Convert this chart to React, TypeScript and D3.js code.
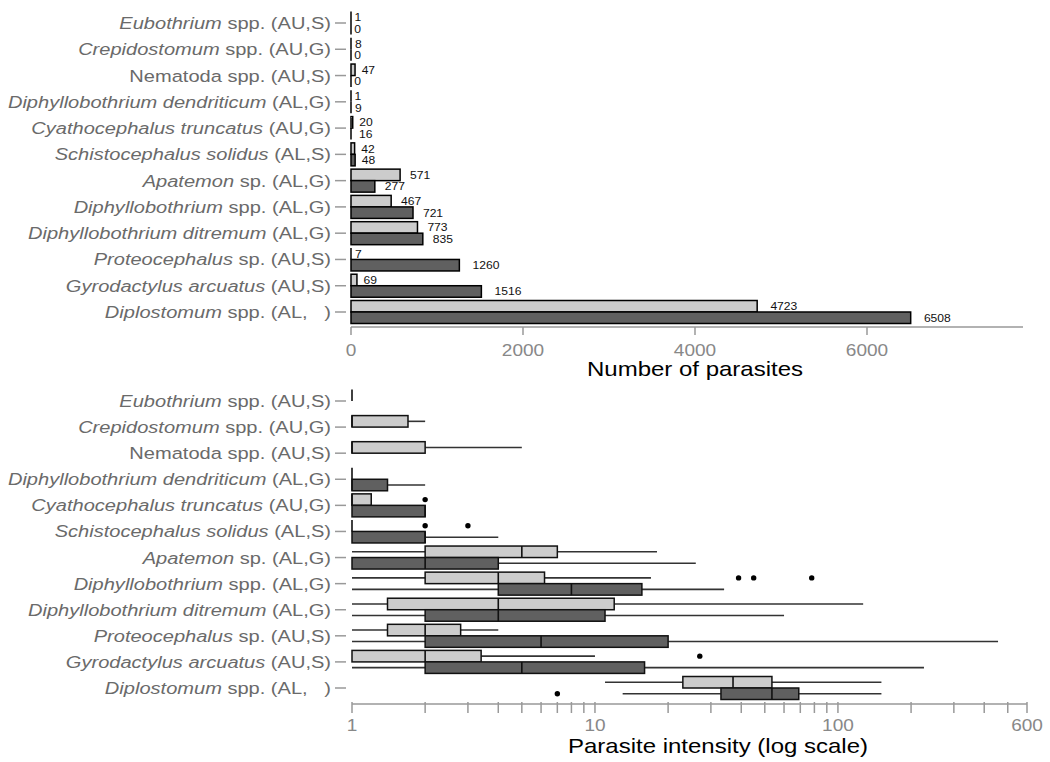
import React from "react";
import * as d3 from "d3";

const italicPart = [
  "Eubothrium", "Crepidostomum", "", "Diphyllobothrium dendriticum",
  "Cyathocephalus truncatus", "Schistocephalus solidus", "Apatemon",
  "Diphyllobothrium", "Diphyllobothrium ditremum", "Proteocephalus",
  "Gyrodactylus arcuatus", "Diplostomum",
];
const plainPart = [
  " spp. (AU,S)", " spp. (AU,G)", "Nematoda spp. (AU,S)", " (AL,G)",
  " (AU,G)", " (AL,S)", " sp. (AL,G)", " spp. (AL,G)", " (AL,G)",
  " sp. (AU,S)", " (AU,S)", " spp. (AL,\u00a0\u00a0\u00a0)",
];

const countLight = [1, 8, 47, 1, 20, 42, 571, 467, 773, 7, 69, 4723];
const countDark = [0, 0, 0, 9, 16, 48, 277, 721, 835, 1260, 1516, 6508];

type Stat = [number, number, number, number, number] | null;
// [min, q1, median, q3, max]
const boxLight: Stat[] = [
  [1, 1, 1, 1, 1], [1, 1, 1, 1.7, 2], [1, 1, 1, 2, 5], [1, 1, 1, 1, 1],
  [1, 1, 1, 1.2, 1.2], [1, 1, 1, 1, 1], [1, 2, 5, 7, 18], [1, 2, 4, 6.2, 17],
  [1, 1.4, 4, 12, 127], [1, 1.4, 2, 2.8, 4], [1, 1, 2, 3.4, 10], [11, 23, 37, 53.5, 151],
];
const boxDark: Stat[] = [
  null, null, null, [1, 1, 1, 1.4, 2],
  [1, 1, 2, 2, 2], [1, 1, 2, 2, 4], [1, 1, 2, 4, 26], [1, 4, 8, 15.6, 34],
  [1, 2, 4, 11, 60], [1, 2, 6, 20, 456], [1, 2, 5, 16, 226], [13, 33, 53.5, 69, 151],
];
const outLight: number[][] = [[], [], [], [], [2], [2, 3], [], [39, 45, 78], [], [], [27], []];
const outDark: number[][] = [[], [], [], [], [], [], [], [], [], [], [], [7]];

const countTicks = [0, 2000, 4000, 6000];
const logTicks = [1, 2, 3, 4, 5, 6, 7, 8, 9, 10, 20, 30, 40, 50, 60, 70, 80, 90, 100, 200, 300, 400, 500, 600];
const logLabels = [1, 10, 100, 600];

const LIGHT = "#cccccc";
const DARK = "#606060";
const FONT = "'Liberation Sans', Arial, sans-serif";
const SX = 1.18;

function SText(props: { x: number; y: number; anchor?: string; size: number; fill: string; children: React.ReactNode; sx?: number }) {
  const s = props.sx ?? SX;
  return (
    <text
      transform={`translate(${props.x},${props.y}) scale(${s},1)`}
      textAnchor={props.anchor || "start"}
      fontSize={props.size}
      fill={props.fill}
      fontFamily={FONT}
    >
      {props.children}
    </text>
  );
}

export default function App() {
  const idx = d3.range(italicPart.length);
  const yTop = d3.scalePoint<number>().domain(idx).range([23, 312]);
  const yBot = d3.scalePoint<number>().domain(idx).range([401, 688]);
  const xCount = d3.scaleLinear().domain([0, 7814]).range([351, 1023]);
  const xLog = d3.scaleLog().domain([1, 600]).range([352, 1027]);
  const bh = 11.5;

  const labels = (ys: d3.ScalePoint<number>) =>
    idx.map((i) => (
      <g key={"l" + i}>
        <SText x={331} y={ys(i)! + 6} anchor="end" size={17} fill="#6a6a6a">
          {italicPart[i] && <tspan fontStyle="italic">{italicPart[i]}</tspan>}
          <tspan>{plainPart[i]}</tspan>
        </SText>
        <line x1={335} x2={346} y1={ys(i)!} y2={ys(i)!} stroke="#999" strokeWidth={1.5} />
      </g>
    ));

  const bar = (v: number, yTopPx: number, fill: string, key: string) => {
    const x0 = xCount(0);
    const x1 = xCount(v);
    const txt = String(v);
    const w = txt.length * 6.6;
    return (
      <g key={key}>
        {x1 - x0 < 1.5 ? (
          <line x1={x0} x2={x0} y1={yTopPx} y2={yTopPx + bh} stroke="#000" strokeWidth={1.5} />
        ) : (
          <rect x={x0} y={yTopPx} width={x1 - x0} height={bh} fill={fill} stroke="#000" strokeWidth={1.5} />
        )}
        <SText x={x1 + w * 0.5} y={yTopPx + bh / 2 + 4} size={11} fill="#111" sx={1.1}>
          {txt}
        </SText>
      </g>
    );
  };

  const box = (s: Stat, outs: number[], yTopPx: number, fill: string, key: string) => {
    const cy = yTopPx + bh / 2;
    return (
      <g key={key}>
        {s && (
          <>
            <line x1={xLog(s[0])} x2={xLog(s[1])} y1={cy} y2={cy} stroke="#333" strokeWidth={1.6} />
            <line x1={xLog(s[3])} x2={xLog(s[4])} y1={cy} y2={cy} stroke="#333" strokeWidth={1.6} />
            {xLog(s[3]) - xLog(s[1]) > 0.5 ? (
              <rect x={xLog(s[1])} y={yTopPx} width={xLog(s[3]) - xLog(s[1])} height={bh} fill={fill} stroke="#111" strokeWidth={1.5} />
            ) : null}
            <line x1={xLog(s[2])} x2={xLog(s[2])} y1={yTopPx} y2={yTopPx + bh} stroke="#111" strokeWidth={1.6} />
          </>
        )}
        {outs.map((o, j) => (
          <circle key={j} cx={xLog(o)} cy={cy} r={2.7} fill="#000" />
        ))}
      </g>
    );
  };

  return (
    <svg width={1050} height={762} style={{ position: "absolute", left: 0, top: 0, background: "#fff" }}>
      {/* Top chart */}
      {labels(yTop)}
      {idx.map((i) => (
        <g key={"b" + i}>
          {bar(countLight[i], yTop(i)! - bh, LIGHT, "bl" + i)}
          {bar(countDark[i], yTop(i)!, DARK, "bd" + i)}
        </g>
      ))}
      <line x1={xCount(0)} x2={1023} y1={327} y2={327} stroke="#999" strokeWidth={1.5} />
      {countTicks.map((t) => (
        <g key={"ct" + t}>
          <line x1={xCount(t)} x2={xCount(t)} y1={327} y2={335} stroke="#999" strokeWidth={1.5} />
          <SText x={xCount(t)} y={356} anchor="middle" size={17} fill="#888" sx={1.12}>
            {t}
          </SText>
        </g>
      ))}
      <SText x={695} y={376} anchor="middle" size={20} fill="#000" sx={1.2}>
        Number of parasites
      </SText>

      {/* Bottom chart */}
      {labels(yBot)}
      {idx.map((i) => (
        <g key={"x" + i}>
          {box(boxLight[i], outLight[i], yBot(i)! - bh, LIGHT, "xl" + i)}
          {box(boxDark[i], outDark[i], yBot(i)!, DARK, "xd" + i)}
        </g>
      ))}
      <line x1={xLog(1)} x2={xLog(600)} y1={704} y2={704} stroke="#999" strokeWidth={1.5} />
      {logTicks.map((t) => (
        <line key={"lt" + t} x1={xLog(t)} x2={xLog(t)} y1={702} y2={713} stroke="#999" strokeWidth={1.5} />
      ))}
      {logLabels.map((t) => (
        <SText key={"ll" + t} x={xLog(t)} y={731} anchor="middle" size={17} fill="#888" sx={1.12}>
          {t}
        </SText>
      ))}
      <SText x={718} y={753} anchor="middle" size={20} fill="#000" sx={1.2}>
        Parasite intensity (log scale)
      </SText>
    </svg>
  );
}
